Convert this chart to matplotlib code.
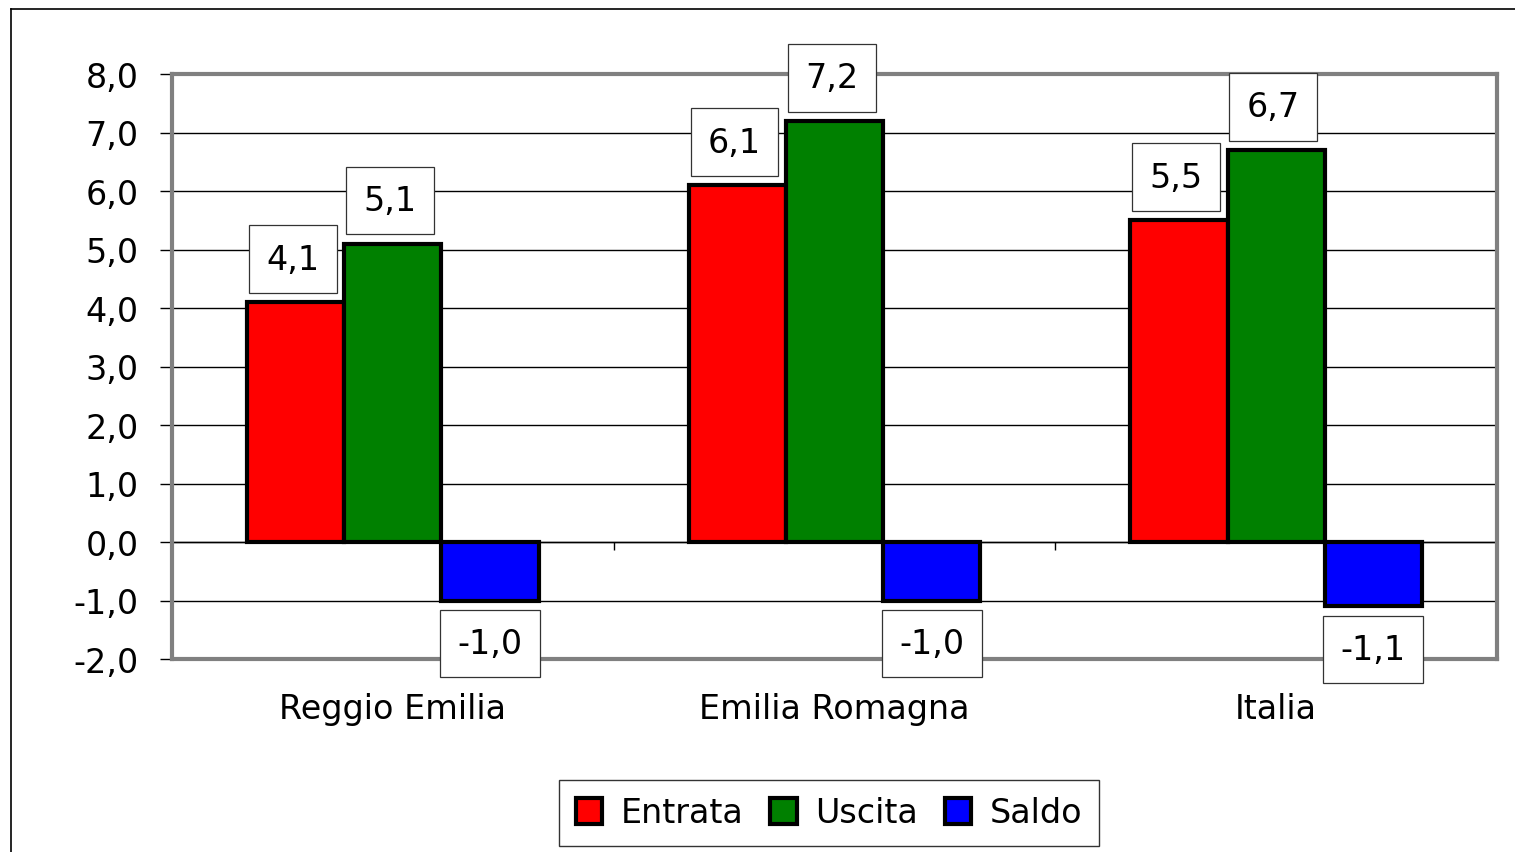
import matplotlib
matplotlib.use("Agg")
import matplotlib.pyplot as plt
from matplotlib.patches import Patch
from matplotlib.lines import Line2D
import numpy as np

categories = ["Reggio Emilia", "Emilia Romagna", "Italia"]
series = ["Entrata", "Uscita", "Saldo"]
entrata = [4.1, 6.1, 5.5]
uscita = [5.1, 7.2, 6.7]
saldo = [-1.0, -1.0, -1.1]
colors = ["#ff0000", "#008000", "#0000ff"]
yticks = [8, 7, 6, 5, 4, 3, 2, 1, 0, -1, -2]

plt.rcParams['font.family'] = ['DejaVu Sans']
FS = 24

W, H = 1515, 853
fig = plt.figure(figsize=(W / 100, H / 100), dpi=100)
fig.patch.set_facecolor("white")

# figure outer border (top and left visible)
fig.add_artist(Line2D([11 / W, 1], [1 - 10 / H, 1 - 10 / H], color="black", lw=1.2, transform=fig.transFigure))
fig.add_artist(Line2D([11 / W, 11 / W], [0, 1 - 10 / H], color="black", lw=1.2, transform=fig.transFigure))

ax = fig.add_axes([172 / W, 1 - 660 / H, (1497 - 172) / W, (660 - 75) / H])
ax.set_xlim(0, 3)
ax.set_ylim(-2, 8)

x = np.arange(len(categories)) + 0.5
bw = 0.22
data = [entrata, uscita, saldo]
for i, (vals, c) in enumerate(zip(data, colors)):
    xs = x + (i - 1) * bw
    ax.bar(xs, vals, width=bw, color=c, edgecolor="black", linewidth=3, zorder=3, joinstyle="miter")
    for xx, v in zip(xs, vals):
        off = 31 if v >= 0 else -31
        ax.annotate(f"{v:.1f}".replace(".", ","), (xx, v), xytext=(-2 if v >= 0 else 0, off),
                    textcoords="offset points",
                    ha="center", va="center", fontsize=FS, zorder=5,
                    bbox=dict(boxstyle="square,pad=0.52", fc="white", ec="#333333", lw=0.9))

ax.set_yticks(yticks)
ax.set_yticklabels([f"{t:.1f}".replace(".", ",") for t in yticks], fontsize=FS)
ax.grid(axis="y", color="black", lw=1, zorder=1)
ax.tick_params(axis="y", length=9, width=1, pad=15, color="black")
ax.set_xticks(x)
ax.set_xticklabels(categories, fontsize=FS)
ax.tick_params(axis="x", length=0, pad=24)
ax.axhline(0, color="black", lw=1, zorder=2)
ax.vlines([1, 2], 0, -0.14, color="black", lw=1, zorder=2)

for s in ax.spines.values():
    s.set_color("#808080")
    s.set_linewidth(3)

handles = [Patch(facecolor=c, edgecolor="black", linewidth=3, label=s) for c, s in zip(colors, series)]
leg = fig.legend(handles=handles, loc="center", bbox_to_anchor=(829 / W, 1 - 814 / H), ncol=3,
                 fontsize=FS, frameon=True, fancybox=False, handlelength=0.8, handleheight=0.8,
                 handletextpad=0.55, columnspacing=0.8, borderpad=0.5, borderaxespad=0)
leg.get_frame().set_edgecolor("black")
leg.get_frame().set_linewidth(1)

fig.savefig("out.png", dpi=100)
